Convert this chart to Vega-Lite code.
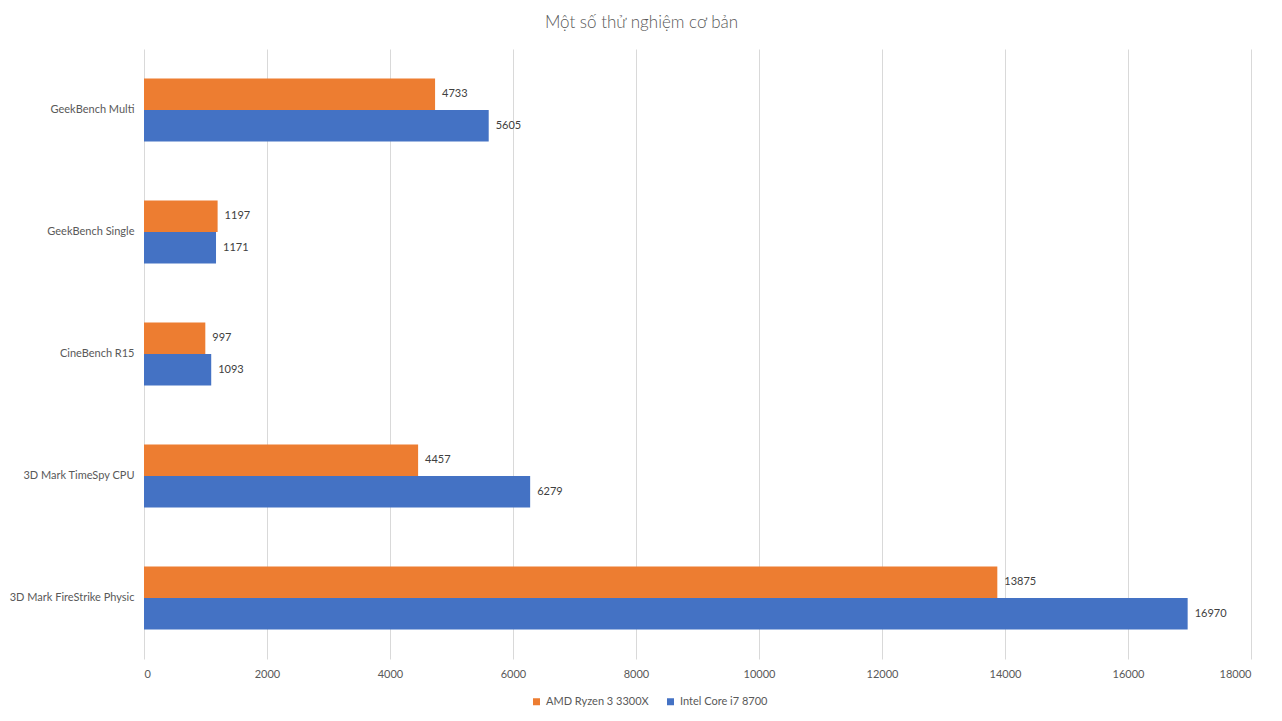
{
  "$schema": "https://vega.github.io/schema/vega-lite/v6.json",
  "autosize": {"type": "none"},
  "width": 1107,
  "height": 610,
  "padding": {"left": 144, "top": 49, "right": 31, "bottom": 62},
  "background": "#ffffff",
  "title": {
    "text": "Một số thử nghiệm cơ bản",
    "font": "Lato",
    "fontSize": 17,
    "fontWeight": 300,
    "color": "#595959",
    "anchor": "middle",
    "dx": -56,
    "offset": 17
  },
  "config": {
    "view": {"stroke": null},
    "font": "Lato"
  },
  "data": {
    "values": [
      {"test": "GeekBench Multi", "series": "AMD Ryzen 3 3300X", "value": 4733},
      {"test": "GeekBench Multi", "series": "Intel Core i7 8700", "value": 5605},
      {"test": "GeekBench Single", "series": "AMD Ryzen 3 3300X", "value": 1197},
      {"test": "GeekBench Single", "series": "Intel Core i7 8700", "value": 1171},
      {"test": "CineBench R15", "series": "AMD Ryzen 3 3300X", "value": 997},
      {"test": "CineBench R15", "series": "Intel Core i7 8700", "value": 1093},
      {"test": "3D Mark TimeSpy CPU", "series": "AMD Ryzen 3 3300X", "value": 4457},
      {"test": "3D Mark TimeSpy CPU", "series": "Intel Core i7 8700", "value": 6279},
      {"test": "3D Mark FireStrike Physic", "series": "AMD Ryzen 3 3300X", "value": 13875},
      {"test": "3D Mark FireStrike Physic", "series": "Intel Core i7 8700", "value": 16970}
    ]
  },
  "encoding": {
    "y": {
      "field": "test",
      "type": "nominal",
      "sort": null,
      "scale": {"paddingInner": 0.484, "paddingOuter": 0.242},
      "axis": {
        "title": null,
        "domain": false,
        "ticks": false,
        "labelPadding": 10,
        "labelFontSize": 11,
        "labelColor": "#595959",
        "labelFont": "Lato"
      }
    },
    "yOffset": {
      "field": "series",
      "type": "nominal",
      "sort": ["AMD Ryzen 3 3300X", "Intel Core i7 8700"],
      "scale": {"paddingInner": 0, "paddingOuter": 0}
    },
    "x": {
      "field": "value",
      "type": "quantitative",
      "scale": {"domain": [0, 18000], "nice": false},
      "axis": {
        "title": null,
        "domain": false,
        "ticks": false,
        "values": [0, 2000, 4000, 6000, 8000, 10000, 12000, 14000, 16000, 18000],
        "format": "d",
        "labelPadding": 9,
        "labelFontSize": 11,
        "labelColor": "#595959",
        "labelFont": "Lato",
        "gridColor": "#D9D9D9",
        "gridWidth": 1
      }
    }
  },
  "layer": [
    {
      "mark": {"type": "bar"},
      "encoding": {
        "color": {
          "field": "series",
          "type": "nominal",
          "scale": {
            "domain": ["AMD Ryzen 3 3300X", "Intel Core i7 8700"],
            "range": ["#ED7D31", "#4472C4"]
          },
          "legend": {
            "title": null,
            "orient": "none",
            "direction": "horizontal",
            "legendX": 387,
            "legendY": 647,
            "symbolType": "square",
            "symbolSize": 49,
            "symbolStrokeWidth": 0,
            "labelFontSize": 11,
            "labelColor": "#595959",
            "labelFont": "Lato",
            "labelOffset": 4,
            "columnPadding": 16
          }
        }
      }
    },
    {
      "mark": {
        "type": "text",
        "align": "left",
        "baseline": "middle",
        "dx": 7,
        "fontSize": 11,
        "color": "#404040",
        "font": "Lato"
      },
      "encoding": {
        "text": {"field": "value", "type": "quantitative", "format": "d"}
      }
    }
  ]
}
